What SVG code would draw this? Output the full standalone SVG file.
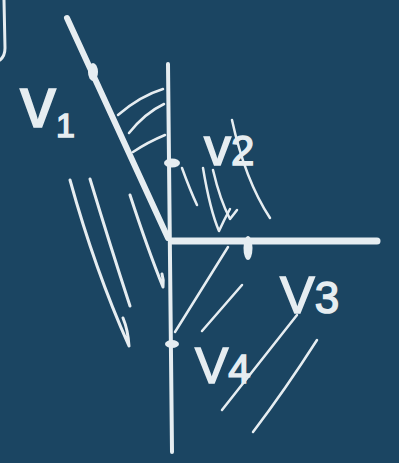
<svg xmlns="http://www.w3.org/2000/svg" width="399" height="463" viewBox="0 0 399 463">
<style>
.s{fill:none;stroke:#e6edf1;stroke-linecap:round;stroke-linejoin:round}
.t{fill:#e6edf1;stroke:#e6edf1;stroke-width:1.5;font-family:"Liberation Sans",Arial,sans-serif}
</style>
<rect width="399" height="463" fill="#1b4562"/>
<g id="corner"><path class="s" stroke-width="3" d="M4,0 L5,48 Q5,56 0,60"/></g>
<g id="axes">
<path class="s" stroke-width="6" d="M67,18 L168,238"/>
<path class="s" stroke-width="4" d="M168,64 L172,452"/>
<path class="s" stroke-width="7" d="M172,241 L377,241"/>
</g>
<g id="ticks">
<ellipse cx="93" cy="72" rx="5" ry="9" fill="#e6edf1"/>
<ellipse cx="172" cy="163" rx="8" ry="4.5" fill="#e6edf1"/>
<ellipse cx="248" cy="248" rx="4.5" ry="12" fill="#e6edf1"/>
<ellipse cx="172" cy="344" rx="7" ry="4" fill="#e6edf1"/>
</g>
<g id="hatching">
<path class="s" stroke-width="2.5" d="M118,115 Q140,96 163,89"/>
<path class="s" stroke-width="2.5" d="M129,133 Q145,113 164,104"/>
<path class="s" stroke-width="2.5" d="M133,152 Q148,142 165,135"/>
<path class="s" stroke-width="3" d="M70,180 Q95,270 129,346 Q128,330 123,318"/>
<path class="s" stroke-width="3" d="M90,179 Q110,245 130,306"/>
<path class="s" stroke-width="3" d="M130,195 Q148,250 163,287 Q164,280 162,274"/>
<path class="s" stroke-width="2.5" d="M182,168 Q190,190 197,205"/>
<path class="s" stroke-width="2.5" d="M203,168 Q210,210 219,231 Q224,220 230,209"/>
<path class="s" stroke-width="2.5" d="M213,170 Q220,200 230,219 Q234,214 237,210"/>
<path class="s" stroke-width="2.5" d="M232,120 Q245,180 270,218"/>
<path class="s" stroke-width="2.5" d="M228,247 L175,332"/>
<path class="s" stroke-width="2.5" d="M242,285 L202,331"/>
<path class="s" stroke-width="2.5" d="M297,315 L222,410"/>
<path class="s" stroke-width="2.5" d="M317,340 Q285,390 253,432"/>
</g>
<g id="labels">
<text class="t" x="20" y="127" font-size="72">v<tspan font-size="34" dy="10">1</tspan></text>
<text class="t" x="204" y="165" font-size="54">v<tspan font-size="42">2</tspan></text>
<text class="t" x="280" y="313" font-size="52">V<tspan font-size="44">3</tspan></text>
<text class="t" x="195" y="383" font-size="50">V<tspan font-size="40">4</tspan></text>
</g>
</svg>
